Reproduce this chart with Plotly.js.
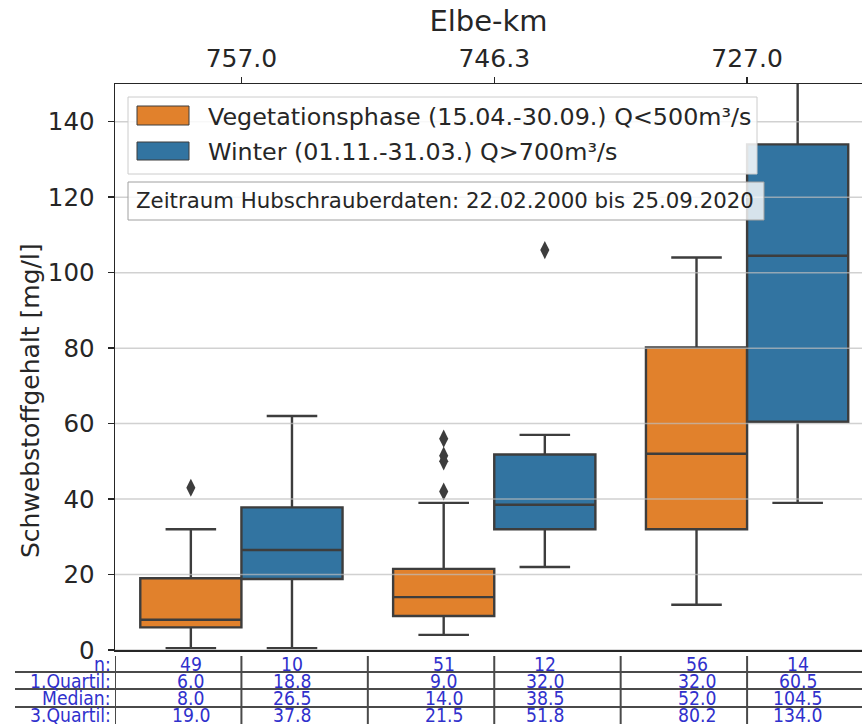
<!DOCTYPE html>
<html>
<head>
<meta charset="utf-8">
<script src="https://cdn.plot.ly/plotly-3.0.1.min.js"></script>
<style>html,body{margin:0;padding:0;background:#fff;}#chart{width:862px;height:724px;}</style>
</head>
<body>
<div id="chart"></div>
<script>
// ---------------- data ----------------
const categories = ['757.0', '746.3', '727.0'];           // Elbe-km
const seriesNames = ['Vegetationsphase (15.04.-30.09.) Q<500m³/s', 'Winter (01.11.-31.03.) Q>700m³/s'];
const noteText = 'Zeitraum Hubschrauberdaten: 22.02.2000 bis 25.09.2020';
const yTitle = 'Schwebstoffgehalt [mg/l]';
const xTitle = 'Elbe-km';

const vegN = [49, 51, 56];
const vegQ1 = [6.0, 9.0, 32.0];
const vegMedian = [8.0, 14.0, 52.0];
const vegQ3 = [19.0, 21.5, 80.2];
const vegLowerWhisker = [0.5, 4, 12];
const vegUpperWhisker = [32, 39, 104];
const vegOutliers = [[43], [42, 50, 51.5, 56], []];

const winN = [10, 12, 14];
const winQ1 = [18.8, 32.0, 60.5];
const winMedian = [26.5, 38.5, 104.5];
const winQ3 = [37.8, 51.8, 134.0];
const winLowerWhisker = [0.5, 22, 39];
const winUpperWhisker = [62, 57, 165];
const winOutliers = [[], [106], []];

const tableRowLabels = ['n:', '1.Quartil:', 'Median:', '3.Quartil:'];
const yTicks = [0, 20, 40, 60, 80, 100, 120, 140];

// ---------------- styling ----------------
const ORANGE = '#e1812c', BLUE = '#3274a1', EDGE = '#3d3d3d', TXT = '#262626', TBL = '#3030cc';
const FONT = 'DejaVu Sans, Verdana, sans-serif';
const TFONT = 'DejaVu Sans Condensed, DejaVu Sans, sans-serif';
const W = 862, H = 724, ML = 115, MR = 0, MT = 84, MB = 74;
const PW = W - ML - MR, PH = H - MT - MB;
const px = v => (v - ML) / PW;          // pixel -> paper x
const py = v => (H - MB - v) / PH;      // pixel -> paper y
const OFF = 0.2, BW = 0.4;

const vegPos = categories.map((c, i) => i - OFF);
const winPos = categories.map((c, i) => i + OFF);

function boxTrace(pos, q1, med, q3, lo, hi, color, name) {
  return {
    type: 'box', name: name, x: pos, q1: q1, median: med, q3: q3,
    lowerfence: lo, upperfence: hi, width: BW, boxpoints: false,
    fillcolor: color, line: {color: EDGE, width: 2.4}, whiskerwidth: 0.5,
    showlegend: false, hoverinfo: 'skip', orientation: 'v'
  };
}
function outlierTrace(pos, outs) {
  const xs = [], ys = [];
  outs.forEach((arr, i) => arr.forEach(v => { xs.push(pos[i]); ys.push(v); }));
  return {type: 'scatter', mode: 'markers', x: xs, y: ys, xaxis: 'x2', showlegend: false, hoverinfo: 'skip',
    marker: {symbol: 'diamond-tall', size: 13, color: EDGE, line: {width: 0}}, cliponaxis: true};
}

const traces = [
  boxTrace(vegPos, vegQ1, vegMedian, vegQ3, vegLowerWhisker, vegUpperWhisker, ORANGE, seriesNames[0]),
  boxTrace(winPos, winQ1, winMedian, winQ3, winLowerWhisker, winUpperWhisker, BLUE, seriesNames[1]),
  outlierTrace(vegPos, vegOutliers),
  outlierTrace(winPos, winOutliers)
];

// ---------------- shapes & annotations ----------------
const shapes = [];
const annotations = [];

// horizontal grid lines drawn above the boxes (as in the reference)
yTicks.forEach(t => shapes.push({type: 'line', xref: 'paper', yref: 'y', x0: 0, x1: 1, y0: t, y1: t,
  layer: 'above', line: {color: 'rgba(190,190,190,0.7)', width: 1.5}}));

// legend frame
shapes.push({type: 'rect', xref: 'paper', yref: 'paper', x0: px(128), x1: px(757), y0: py(174), y1: py(97),
  layer: 'above', fillcolor: 'rgba(255,255,255,0.85)', line: {color: '#cccccc', width: 1}});
shapes.push({type: 'rect', xref: 'paper', yref: 'paper', x0: px(137), x1: px(189), y0: py(125), y1: py(106),
  layer: 'above', fillcolor: ORANGE, line: {color: EDGE, width: 1}});
shapes.push({type: 'rect', xref: 'paper', yref: 'paper', x0: px(137), x1: px(189), y0: py(160), y1: py(142),
  layer: 'above', fillcolor: BLUE, line: {color: EDGE, width: 1}});
annotations.push({xref: 'paper', yref: 'paper', x: px(206), y: py(117), xanchor: 'left', yanchor: 'middle',
  text: seriesNames[0], showarrow: false, font: {family: FONT, size: 23.8, color: TXT}});
annotations.push({xref: 'paper', yref: 'paper', x: px(206), y: py(152), xanchor: 'left', yanchor: 'middle',
  text: seriesNames[1], showarrow: false, font: {family: FONT, size: 23.8, color: TXT}});

// note box
shapes.push({type: 'rect', xref: 'paper', yref: 'paper', x0: px(128), x1: px(764), y0: py(220), y1: py(182),
  layer: 'above', fillcolor: 'rgba(255,255,255,0.8)', line: {color: '#a0a0a0', width: 1}});
annotations.push({xref: 'paper', yref: 'paper', x: px(134), y: py(200), xanchor: 'left', yanchor: 'middle',
  text: noteText, showarrow: false, font: {family: FONT, size: 21.3, color: TXT}});

// y axis title (placed like the reference, slightly below the axis centre)
annotations.push({xref: 'paper', yref: 'paper', x: px(30), y: py(401), xanchor: 'center', yanchor: 'middle',
  textangle: -90, text: yTitle, showarrow: false, font: {family: FONT, size: 25, color: TXT}});

// statistics table below the plot
const rowY = [664, 681, 698, 715];
const lineY = [672, 689, 707];
lineY.forEach(v => shapes.push({type: 'line', xref: 'paper', yref: 'paper', x0: px(15), x1: 1, y0: py(v), y1: py(v),
  line: {color: '#4a4a4a', width: 2}}));
[-0.5, 0, 0.5, 1, 1.5, 2].forEach(v => shapes.push({type: 'line', xref: 'x', yref: 'paper', x0: v, x1: v,
  y0: py(656), y1: py(H + 2), line: {color: '#4a4a4a', width: 2}}));
tableRowLabels.forEach((lab, r) => annotations.push({xref: 'paper', yref: 'paper', x: px(113), y: py(rowY[r]),
  xanchor: 'right', yanchor: 'middle', text: lab, showarrow: false,
  font: {family: TFONT, size: 19.2, color: TBL}}));
function tableCol(pos, n, q1, med, q3) {
  pos.forEach((p, i) => {
    const vals = [String(n[i]), q1[i].toFixed(1), med[i].toFixed(1), q3[i].toFixed(1)];
    vals.forEach((t, r) => annotations.push({xref: 'x', yref: 'paper', x: p, y: py(rowY[r]),
      xanchor: 'center', yanchor: 'middle', text: t, showarrow: false,
      font: {family: TFONT, size: 19.2, color: TBL}}));
  });
}
tableCol(vegPos, vegN, vegQ1, vegMedian, vegQ3);
tableCol(winPos, winN, winQ1, winMedian, winQ3);

// ---------------- layout ----------------
const xRange = [-0.5, 2.4545];
const layout = {
  width: W, height: H,
  margin: {l: ML, r: MR, t: MT, b: MB, pad: 0},
  paper_bgcolor: '#ffffff', plot_bgcolor: '#ffffff',
  showlegend: false, boxmode: 'overlay',
  font: {family: FONT, color: TXT},
  xaxis: {range: xRange, showticklabels: false, ticks: '', showgrid: false, zeroline: false,
    showline: true, linecolor: TXT, linewidth: 1.5, fixedrange: true},
  xaxis2: {overlaying: 'x', matches: 'x', side: 'top', range: xRange,
    tickmode: 'array', tickvals: categories.map((c, i) => i), ticktext: categories,
    ticks: 'outside', ticklen: 6, tickwidth: 1.5, tickcolor: TXT,
    showline: true, linecolor: TXT, linewidth: 1.5, showgrid: false, zeroline: false,
    tickfont: {family: FONT, size: 25, color: TXT},
    title: {text: xTitle, font: {family: FONT, size: 29, color: TXT}, standoff: 3}},
  yaxis: {range: [0, 150], tickmode: 'array', tickvals: yTicks, ticktext: yTicks.map(String),
    ticks: 'outside', ticklen: 6, tickwidth: 1.5, tickcolor: TXT,
    showline: true, linecolor: TXT, linewidth: 1.5, showgrid: false, zeroline: false,
    tickfont: {family: FONT, size: 24.5, color: TXT}, ticklabelstandoff: 8},
  shapes: shapes,
  annotations: annotations
};

Plotly.newPlot('chart', traces, layout, {staticPlot: true, displayModeBar: false});
</script>
</body>
</html>
